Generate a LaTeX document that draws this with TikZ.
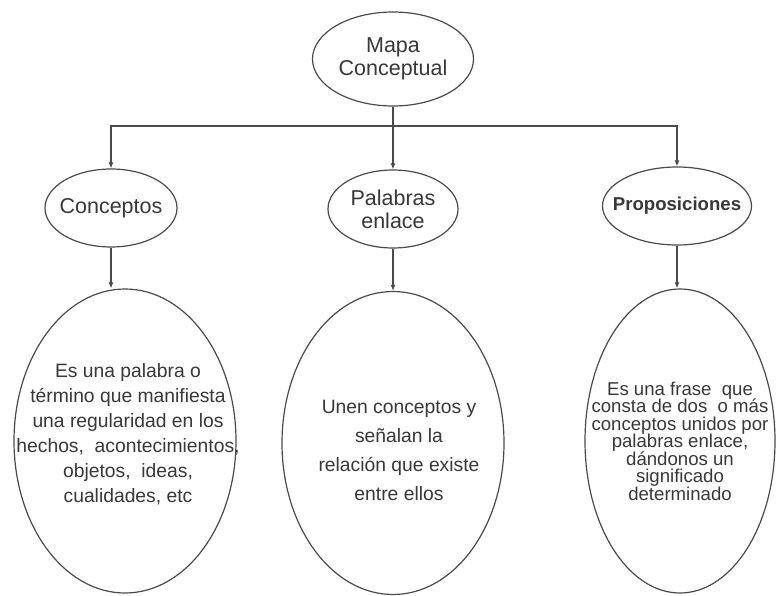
\documentclass[tikz,border=0pt]{standalone}
\usepackage{fontspec}
\setmainfont{Liberation Sans}
\usetikzlibrary{shapes.geometric,arrows.meta}
\definecolor{linegray}{HTML}{4A4A4A}
\definecolor{textgray}{HTML}{383838}
\newcommand\mytightlines{\lineskiplimit=-20pt\relax}
\begin{document}
\begin{tikzpicture}[x=1pt,y=-1pt,
  ell/.style={ellipse,draw=linegray,line width=1.2pt,inner sep=0pt},
  headtext/.style={text=textgray,align=center,inner sep=0pt,font=\fontsize{21.5}{23}\selectfont},
  boldtext/.style={text=textgray,align=center,inner sep=0pt,font=\fontsize{18.6}{20}\selectfont\bfseries},
  bodytext/.style={text=textgray,align=center,inner sep=0pt},
  conn/.style={draw=linegray,line width=1.2pt},
  arr/.style={conn,-{Latex[length=6pt,width=5pt]}}]
\useasboundingbox[fill=white] (0,0) rectangle (777,596);

% top
\node[ell,minimum width=161pt,minimum height=94pt] (top) at (393,59) {};
\node[headtext] (topt) at (top) {Mapa\\Conceptual};

% second level
\node[ell,minimum width=132pt,minimum height=78pt] (c1) at (111,208) {};
\node[headtext] (c1t) at (c1) {Conceptos};
\node[ell,minimum width=130pt,minimum height=78pt] (c2) at (393,209) {};
\node[headtext] (c2t) at (c2) {Palabras\\enlace};
\node[ell,minimum width=149pt,minimum height=78pt] (c3) at (677,206) {};
\node[boldtext] (c3t) at (c3) {Proposiciones};

% third level
\node[ell,minimum width=222pt,minimum height=304pt] (b1) at (125,441) {};
\node[bodytext,font=\fontsize{19.3}{25}\selectfont] (b1t) at (128,434)
  {Es una palabra o\\término que manifiesta\\una regularidad en los\\hechos,~ acontecimientos,\\objetos,~ ideas,\\cualidades, etc};
\node[ell,minimum width=222pt,minimum height=303pt] (b2) at (393,443) {};
\node[bodytext,font=\fontsize{19.3}{29}\selectfont] (b2t) at (399,450)
  {Unen conceptos y\\señalan la\\relación que existe\\entre ellos};
\node[ell,minimum width=190pt,minimum height=304pt] (b3) at (680,441) {};
\node[bodytext,font={\fontsize{18.6}{17.5}\selectfont\mytightlines}] (b3t) at (680,441)
  {Es una frase~ que\\consta de dos~ o más\\conceptos unidos por\\palabras enlace,\\dándonos un\\significado\\determinado};

% connectors
\coordinate (hub) at (393,126);
\draw[conn] (top) -- (hub);
\draw[arr] (hub) -| (c1);
\draw[arr] (hub) -- (c2);
\draw[arr] (hub) -| (c3);
\draw[arr] (c1) -- (c1 |- b1.north);
\draw[arr] (c2) -- (b2);
\draw[arr] (c3) -- (c3 |- b3.north);
\end{tikzpicture}
\end{document}
